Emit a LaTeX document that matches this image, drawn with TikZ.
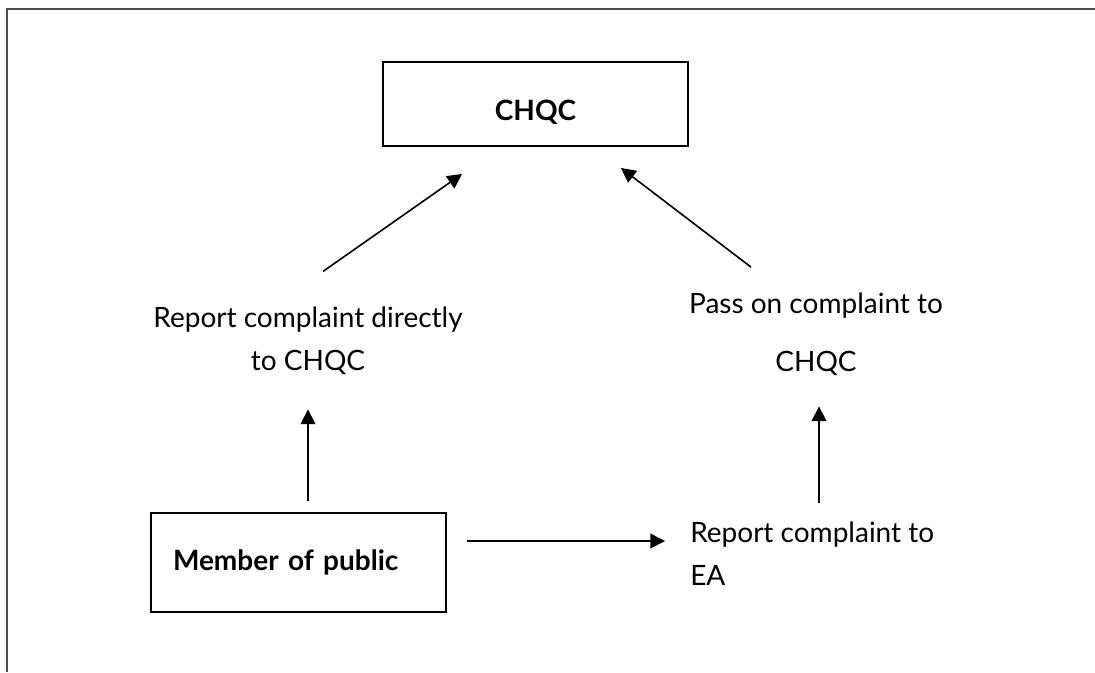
\documentclass[tikz,border=0pt]{standalone}
\usepackage{fontspec}
\setmainfont{Lato}
\usetikzlibrary{positioning}
\usetikzlibrary{calc}
\usetikzlibrary{arrows.meta}

\begin{document}
\begin{tikzpicture}[x=0.75pt, y=-0.75pt,
			every node/.style={font=\fontsize{21}{32}\selectfont, inner sep=0pt},
			box/.style={draw, line width=1.4pt},
			arr/.style={-{Triangle[length=11pt,width=11pt]}, line width=1.2pt}]
	\useasboundingbox (0,0) rectangle (1095,672);
	\draw [line width=1.5pt, black!70] (1095,9) -- (7,9) -- (7,672);
	\node [box, minimum width=228.75pt, minimum height=63pt,
			text height=24pt, text depth=0pt] (chqc) at (535.5,104) {\textbf{CHQC}};
	\node [box, minimum width=221.25pt, minimum height=74.25pt,
			text width=188.25pt, align=left, inner xsep=16.5pt] (member) at (298.5,562.5) {\textbf{Member of public}};
	\node [align=center, anchor=base] (direct) at (308,370) {Report complaint directly\\to CHQC};
	\node [align=center, anchor=base] (pass) at (816,371) {Pass on complaint to\\[11.5pt]CHQC};
	\node [align=left, anchor=base west] (ea) at (690,585) {Report complaint to\\EA};
	\path [arr]
		($(member.north -| direct.south)+(0,-11)$) edge [] ($(direct.south)+(0,35)$)
		($(direct.north)+(15,-35)$) edge [] ($(chqc.south west)+(80,27)$)
		($(pass.north)+(-65,-25)$) edge [] ($(chqc.south east)+(-68,21)$)
		($(ea.north -| pass.south)+(3,-18)$) edge [] ($(pass.south)+(3,31)$)
		($(member.east)+(20,-21.5)$) edge [] ($(member.east -| ea.west)+(-25,-21.5)$);
\end{tikzpicture}
\end{document}
